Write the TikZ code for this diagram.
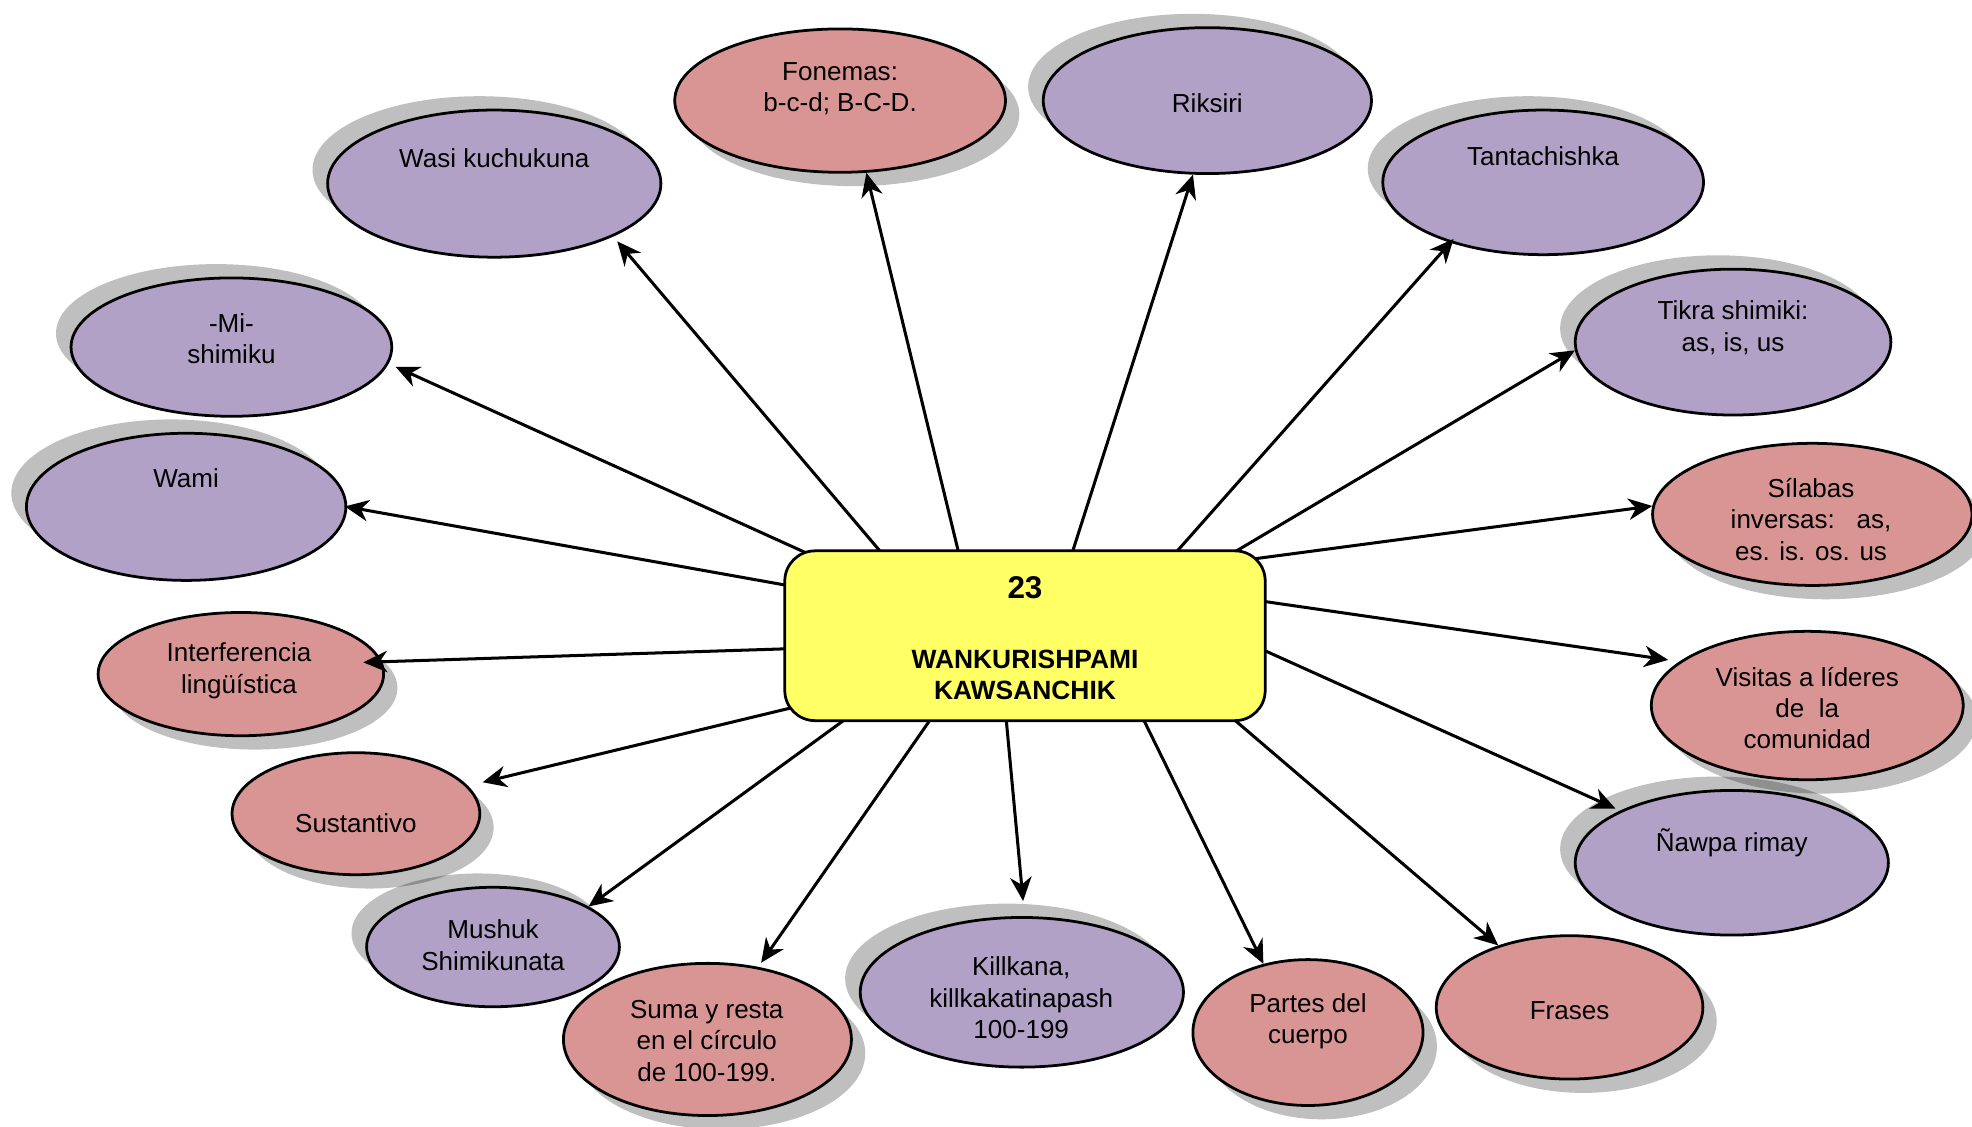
\documentclass[tikz,border=0pt]{standalone}
\usepackage{fontspec}
\setmainfont{Liberation Sans}
\usetikzlibrary{arrows.meta,shapes.geometric,calc}
\definecolor{pur}{HTML}{B2A1C7}
\definecolor{pnk}{HTML}{D99594}
\definecolor{yel}{HTML}{FFFF66}
\begin{document}
\begin{tikzpicture}[x=1pt,y=-1pt,
  ell/.style={ellipse, draw=black, line width=2.2pt, inner sep=0pt},
  pe/.style={ell, fill=pnk},
  ve/.style={ell, fill=pur},
  shad/.style={ellipse, draw=none, fill=black, fill opacity=0.25, inner sep=0pt},
  shpe/.style={xshift=11pt, yshift=-11pt},
  shve/.style={xshift=-12pt, yshift=11pt},
  txt/.style={align=center, font=\fontsize{20.7}{25}\selectfont, inner sep=0pt},
  btxt/.style={align=center, font=\fontsize{21}{25}\selectfont\bfseries, inner sep=0pt},
  arr/.style={line width=2.4pt, -{Stealth[length=19pt,width=17pt,inset=6pt]}},
  centbox/.style={draw=black, line width=2.2pt, fill=yel, rounded corners=24pt, inner sep=0pt}
]
\useasboundingbox (0,0) rectangle (1568,896);

\newcommand\allbubbles{%
  \B{fon}{pe}{668}{80}{263}{114}%
  \B{rik}{ve}{960}{80}{261}{116}%
  \B{wasi}{ve}{393}{146}{265}{117}%
  \B{tan}{ve}{1227}{145}{255}{115}%
  \B{mi}{ve}{184}{276}{255}{110}%
  \B{tik}{ve}{1378}{272}{251}{116}%
  \B{wami}{ve}{148}{403}{254}{117}%
  \B{sil}{pe}{1441}{409}{254}{113}%
  \B{int}{pe}{191.5}{536}{227}{98}%
  \B{vis}{pe}{1437}{561}{248}{118}%
  \B{sus}{pe}{283}{647}{197}{97}%
  \B{naw}{ve}{1377}{686}{249}{115}%
  \B{mus}{ve}{392}{753}{201}{95}%
  \B{sum}{pe}{562.5}{826.5}{229}{121}%
  \B{kil}{ve}{812.5}{789}{257}{119}%
  \B{par}{pe}{1040}{821}{183}{116}%
  \B{fra}{pe}{1248}{801}{212}{114}%
}
% shadows
\def\B#1#2#3#4#5#6{\node[shad, sh#2, minimum width=#5pt, minimum height=#6pt] (#1s) at (#3,#4) {};}
\allbubbles
% ellipses
\def\B#1#2#3#4#5#6{\node[#2, minimum width=#5pt, minimum height=#6pt] (#1) at (#3,#4) {};}
\allbubbles

% central box (node defined first for anchors, drawn later on top)
\path node[minimum width=382pt, minimum height=135pt, inner sep=0pt] (box) at (815,505.5) {};

% arrows
\draw[arr] ($(box.north west)+(139,4)$) -- (fon.-70.7);
\draw[arr] ($(box.north west)+(228,4)$) -- (rik.-101.7);
\draw[arr, shorten >=5pt] ($(box.north west)+(79,4)$) -- (wasi.-24.1);
\draw[arr, shorten >=-4pt] ($(box.north west)+(309,4)$) -- (tan.-147.3);
\draw[arr, shorten >=6pt] ($(box.north west)+(22,4)$) -- (mi.-6.6);
\draw[arr] ($(box.north west)+(353,4)$) -- (tik.-177.3);
\draw[arr, shorten >=-2pt] ($(box.north west)+(4,28)$) -- (wami.0.9);
\draw[arr] ($(box.north west)+(370,7)$) -- (sil.177.3);
\draw[arr, shorten >=-15pt] ($(box.north west)+(4,78)$) -- (int.5.9);
\draw[arr, shorten >=9pt] ($(box.north east)+(-4,40)$) -- (vis.161.4);
\draw[arr, shorten >=12pt] ($(box.south west)+(8,-11)$) -- (sus.14);
\draw[arr, shorten >=4pt] ($(box.north east)+(-4,78)$) -- (naw.155.7);
\draw[arr] ($(box.south west)+(52,-4)$) -- (mus.23.1);
\draw[arr, shorten >=4pt] ($(box.south west)+(118,-4)$) -- (sum.55.4);
\draw[arr, shorten >=12pt] ($(box.south west)+(176,-4)$) -- (kil.88.5);
\draw[arr] ($(box.south west)+(284,-4)$) -- (par.123);
\draw[arr] ($(box.south west)+(354,-4)$) -- (fra.139.4);

\node[centbox, minimum width=382pt, minimum height=135pt] (boxdraw) at (box.center) {};
\node[btxt, font=\fontsize{25}{28}\selectfont\bfseries] (tnum) at (815,467) {23};
\node[btxt] (ttitle) at (815,536.5) {WANKURISHPAMI\\KAWSANCHIK};

% texts
\node[txt] (tfon) at (668,70.5) {Fonemas:\\b-c-d; B-C-D.};
\node[txt] (trik) at (960,82) {Riksiri};
\node[txt] (twasi) at (393,126) {Wasi kuchukuna};
\node[txt] (ttan) at (1227,124) {Tantachishka};
\node[txt] (tmi) at (184,269.5) {-Mi-\\shimiku};
\node[txt] (ttik) at (1378,260.5) {Tikra shimiki:\\as, is, us};
\node[txt] (twami) at (148,380.5) {Wami};
\node[txt] (tsil) at (1440,413) {Sílabas\\inversas:\ \ \ as,\\es. is. os. us};
\node[txt] (tint) at (190,533.5) {Interferencia\\lingüística};
\node[txt] (tvis) at (1437,563) {Visitas a líderes\\de\ \ la\\comunidad};
\node[txt] (tsus) at (283,654.5) {Sustantivo};
\node[txt] (tnaw) at (1377,670) {Ñawpa rimay};
\node[txt] (tmus) at (392,751.5) {Mushuk\\Shimikunata};
\node[txt] (tsum) at (562,827.5) {Suma y resta\\en el círculo\\de 100-199.};
\node[txt] (tkil) at (812,793.5) {Killkana,\\killkakatinapash\\100-199};
\node[txt] (tpar) at (1040,812) {Partes del\\cuerpo};
\node[txt] (tfra) at (1248,803.5) {Frases};
\end{tikzpicture}
\end{document}
